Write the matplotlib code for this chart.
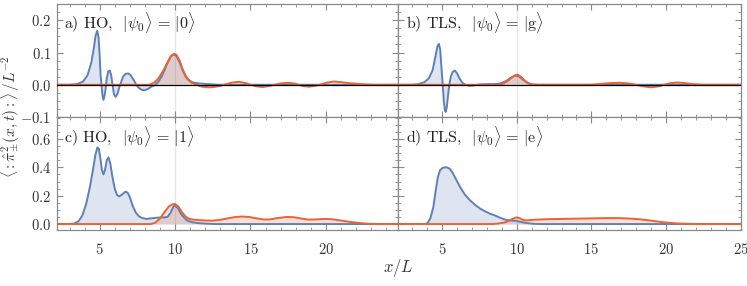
import matplotlib
matplotlib.use("Agg")
import matplotlib.pyplot as plt
from matplotlib.ticker import MultipleLocator, AutoMinorLocator, FuncFormatter

plt.rcParams['font.family'] = 'serif'
plt.rcParams['font.serif'] = ['cmr10', 'DejaVu Serif']
plt.rcParams['mathtext.fontset'] = 'cm'
plt.rcParams['axes.formatter.use_mathtext'] = True

BLUE = '#5E81B5'
ORANGE = '#EB6235'
FRAME = '#8a8a8a'

# a) HO, |psi0> = |0>
a_blue_x = [2.15, 3.0, 3.5, 3.9, 4.2, 4.45, 4.6, 4.72, 4.83, 4.92, 5.0, 5.06, 5.12, 5.19, 5.25,
            5.32, 5.4, 5.47, 5.57, 5.67, 5.76, 5.85, 5.95, 6.06, 6.18, 6.3, 6.4, 6.55, 6.72,
            6.9, 7.05, 7.25, 7.43, 7.6, 7.8, 7.98, 8.2, 8.45, 8.7, 8.9, 9.1, 9.3, 9.5, 9.7,
            9.85, 10.0, 10.1, 10.3, 10.5, 10.7, 10.9, 11.2, 11.6, 12.2, 13.0, 25.0]
a_blue_y = [0, 0, 0.002, 0.01, 0.03, 0.07, 0.11, 0.15, 0.167, 0.15, 0.09, 0.03, 0.0, -0.035, -0.047,
            -0.035, -0.01, 0.02, 0.042, 0.044, 0.03, 0.0, -0.03, -0.0375, -0.028, -0.008, 0.005, 0.025, 0.034,
            0.035, 0.03, 0.015, 0.0, -0.01, -0.016, -0.017, -0.013, -0.005, 0.0, 0.01, 0.025, 0.045, 0.068, 0.087,
            0.093, 0.093, 0.088, 0.07, 0.045, 0.025, 0.014, 0.007, 0.004, 0.002, 0.0, 0.0]
a_orange_x = [2.15, 8.3, 8.6, 8.9, 9.2, 9.5, 9.75, 9.95, 10.1, 10.3, 10.5, 10.7, 10.9, 11.1, 11.4,
              11.8, 12.3, 12.7, 13.1, 13.4, 13.8, 14.25, 14.7, 15.0, 15.4, 15.8, 16.2, 16.6, 17.0,
              17.5, 17.9, 18.2, 18.5, 18.9, 19.3, 19.6, 20.0, 20.5, 21.0, 21.5, 22.0, 22.6, 23.2, 25.0]
a_orange_y = [0, 0, 0.006, 0.02, 0.042, 0.07, 0.09, 0.096, 0.092, 0.075, 0.048, 0.028, 0.015, 0.006, 0.0,
              -0.006, -0.008, -0.006, -0.002, 0.002, 0.007, 0.009, 0.005, 0.0, -0.005, -0.007, -0.004, 0.0, 0.004,
              0.006, 0.004, 0.0, -0.004, -0.006, -0.003, 0.0, 0.006, 0.01, 0.008, 0.005, 0.003, 0.001, 0.0, 0.0]

# b) TLS, |psi0> = |g>
b_blue_x = [2.05, 3.0, 3.4, 3.8, 4.1, 4.35, 4.55, 4.68, 4.77, 4.86, 4.95, 5.03, 5.1, 5.18, 5.23,
            5.3, 5.38, 5.47, 5.57, 5.7, 5.85, 6.0, 6.15, 6.35, 6.55, 6.8, 7.1, 7.5, 8.0, 8.5,
            8.9, 9.3, 9.6, 9.9, 10.1, 10.4, 10.7, 11.0, 11.5, 25.0]
b_blue_y = [0, 0, 0.002, 0.008, 0.02, 0.045, 0.09, 0.12, 0.127, 0.11, 0.05, 0.0, -0.05, -0.08, -0.084,
            -0.07, -0.035, 0.0, 0.025, 0.04, 0.044, 0.035, 0.02, 0.006, 0.0, -0.003, -0.002, 0.001, 0.002, 0.002,
            0.004, 0.012, 0.022, 0.028, 0.027, 0.016, 0.006, 0.001, 0.0, 0.0]
b_orange_x = [2.05, 8.8, 9.1, 9.4, 9.7, 9.9, 10.05, 10.3, 10.55, 10.8, 11.1, 15.0, 15.5, 16.2, 16.9,
              17.5, 18.0, 18.5, 19.0, 19.5, 19.9, 20.3, 20.8, 21.3, 21.8, 22.4, 25.0]
b_orange_y = [0, 0, 0.004, 0.012, 0.024, 0.03, 0.031, 0.024, 0.012, 0.004, 0.0, 0.0, 0.002, 0.005, 0.006,
              0.004, 0.0, -0.005, -0.008, -0.005, 0.0, 0.005, 0.007, 0.005, 0.002, 0.0, 0.0]

# c) HO, |psi0> = |1>
c_blue_x = [2.15, 3.0, 3.3, 3.6, 3.85, 4.1, 4.35, 4.55, 4.72, 4.85, 4.95, 5.05, 5.15, 5.25, 5.35,
            5.47, 5.58, 5.7, 5.85, 6.0, 6.15, 6.3, 6.5, 6.7, 6.85, 7.0, 7.2, 7.4, 7.6, 7.8,
            8.1, 8.4, 8.8, 9.2, 9.5, 9.7, 9.9, 10.0, 10.2, 10.4, 10.6, 10.8, 11.1, 11.5, 12.0,
            12.6, 25.0]
c_blue_y = [0, 0, 0.003, 0.02, 0.06, 0.14, 0.26, 0.38, 0.49, 0.54, 0.53, 0.46, 0.38, 0.35, 0.38,
            0.45, 0.47, 0.43, 0.33, 0.25, 0.205, 0.195, 0.21, 0.228, 0.222, 0.19, 0.125, 0.08, 0.055, 0.043,
            0.036, 0.04, 0.045, 0.046, 0.05, 0.08, 0.125, 0.13, 0.11, 0.07, 0.045, 0.025, 0.014, 0.007, 0.003,
            0.0, 0.0]
c_orange_x = [2.15, 8.4, 8.7, 9.0, 9.3, 9.6, 9.85, 10.0, 10.2, 10.45, 10.7, 10.95, 11.3, 11.7, 12.1,
              12.5, 12.9, 13.4, 13.9, 14.4, 14.9, 15.4, 15.9, 16.3, 16.8, 17.4, 17.9, 18.4, 18.9,
              19.4, 19.9, 20.3, 20.8, 21.4, 22.0, 22.6, 23.2, 25.0]
c_orange_y = [0, 0, 0.01, 0.04, 0.085, 0.125, 0.14, 0.141, 0.125, 0.085, 0.052, 0.036, 0.03, 0.027, 0.025,
              0.024, 0.028, 0.038, 0.048, 0.053, 0.05, 0.04, 0.032, 0.033, 0.042, 0.05, 0.048, 0.038, 0.031,
              0.033, 0.036, 0.035, 0.028, 0.018, 0.01, 0.004, 0.0, 0.0]

# d) TLS, |psi0> = |e>
d_blue_x = [2.05, 3.8, 4.0, 4.2, 4.4, 4.55, 4.7, 4.85, 5.05, 5.3, 5.5, 5.7, 5.95, 6.2, 6.5,
            6.85, 7.2, 7.55, 7.9, 8.2, 8.5, 8.8, 9.1, 9.4, 9.7, 9.95, 10.2, 10.5, 10.8, 11.2,
            11.6, 25.0]
d_blue_y = [0, 0, 0.005, 0.04, 0.12, 0.23, 0.33, 0.38, 0.398, 0.4, 0.39, 0.36, 0.31, 0.26, 0.21,
            0.168, 0.135, 0.108, 0.088, 0.073, 0.062, 0.048, 0.035, 0.027, 0.024, 0.023, 0.017, 0.01, 0.005, 0.001,
            0.0, 0.0]
d_orange_x = [2.05, 8.4, 8.8, 9.2, 9.5, 9.8, 10.0, 10.2, 10.45, 10.7, 11.0, 11.5, 12.0, 13.0, 14.0,
              15.0, 16.0, 16.8, 17.5, 18.2, 18.8, 19.3, 19.8, 20.3, 20.8, 21.4, 22.0, 25.0]
d_orange_y = [0, 0, 0.004, 0.012, 0.025, 0.04, 0.047, 0.04, 0.028, 0.026, 0.029, 0.032, 0.034, 0.036, 0.038,
              0.04, 0.042, 0.042, 0.039, 0.034, 0.027, 0.02, 0.013, 0.008, 0.004, 0.002, 0.0, 0.0]

labels = [r'a) HO,  $|\psi_0\rangle\, =\, |0\rangle$', r'b) TLS,  $|\psi_0\rangle\, =\, |\mathrm{g}\rangle$',
          r'c) HO,  $|\psi_0\rangle\, =\, |1\rangle$', r'd) TLS,  $|\psi_0\rangle\, =\, |\mathrm{e}\rangle$']

W, H = 747, 286
fig = plt.figure(figsize=(W / 100, H / 100), dpi=100)

left_col = (56.7 / W, 341.6 / W)
right_col = (398.3 / W, 342.2 / W)
top_row = (1 - 117 / H, 113.5 / H)
bot_row = (1 - 230 / H, 113 / H)

fmt = FuncFormatter(lambda v, p: r'$%.1f$' % v if abs(v) > 1e-9 else r'$0.0$')
xfmt = FuncFormatter(lambda v, p: r'$%d$' % v)


def panel(col, row, xlim, ylim, bx, by, ox, oy, label, zero_line, show_x, show_y, ymajor):
    ax = fig.add_axes([col[0], row[0], col[1], row[1]])
    ax.axvline(10, color='#e6e6e6', lw=0.9, zorder=0)
    ax.fill_between(bx, by, 0, color=BLUE, alpha=0.2, lw=0, zorder=1)
    ax.fill_between(ox, oy, 0, color=ORANGE, alpha=0.2, lw=0, zorder=1)
    ax.plot(bx, by, color=BLUE, lw=1.4, zorder=3, solid_joinstyle='round')
    ax.plot(ox, oy, color=ORANGE, lw=1.4, zorder=4, solid_joinstyle='round')
    if zero_line:
        ax.axhline(0, color='black', lw=0.9, zorder=5)
    ax.set_xlim(*xlim)
    ax.set_ylim(*ylim)
    ax.xaxis.set_major_locator(MultipleLocator(5))
    ax.xaxis.set_minor_locator(AutoMinorLocator(5))
    ax.yaxis.set_major_locator(MultipleLocator(ymajor))
    ax.yaxis.set_minor_locator(AutoMinorLocator(4))
    ax.xaxis.set_major_formatter(xfmt)
    ax.yaxis.set_major_formatter(fmt)
    ax.tick_params(which='both', direction='in', top=True, right=True, color=FRAME,
                   labelsize=10.5, labelcolor='#333333')
    ax.tick_params(which='major', length=4, width=0.8, pad=4)
    ax.tick_params(which='minor', length=2, width=0.6)
    ax.tick_params(axis='x', which='major', pad=9)
    ax.tick_params(labelbottom=show_x, labelleft=show_y)
    for s in ax.spines.values():
        s.set_color(FRAME)
        s.set_linewidth(0.9)
    ax.text(0.022, 0.83, label, transform=ax.transAxes, ha='left', va='center', fontsize=11.5,
            color='#222222', zorder=6)
    return ax


panel(left_col, top_row, (2.15, 24.8), (-0.1, 0.252), a_blue_x, a_blue_y, a_orange_x, a_orange_y,
      labels[0], True, False, True, 0.1)
panel(right_col, top_row, (2.05, 25.0), (-0.1, 0.252), b_blue_x, b_blue_y, b_orange_x, b_orange_y,
      labels[1], True, False, False, 0.1)
panel(left_col, bot_row, (2.15, 24.8), (-0.042, 0.755), c_blue_x, c_blue_y, c_orange_x, c_orange_y,
      labels[2], False, True, True, 0.2)
panel(right_col, bot_row, (2.05, 25.0), (-0.042, 0.755), d_blue_x, d_blue_y, d_orange_x, d_orange_y,
      labels[3], False, True, False, 0.2)

fig.text(10 / W, 1 - 117 / H, r'$\langle :\hat{\pi}_{\pm}^{2}(x,t):\rangle\,/L^{-2}$',
         rotation=90, ha='center', va='center', fontsize=11, color='#333333')
fig.text(398 / W, 1 - 268 / H, r'$x/L$', ha='center', va='center', fontsize=12, color='#333333')

fig.savefig('out.png', dpi=100)
